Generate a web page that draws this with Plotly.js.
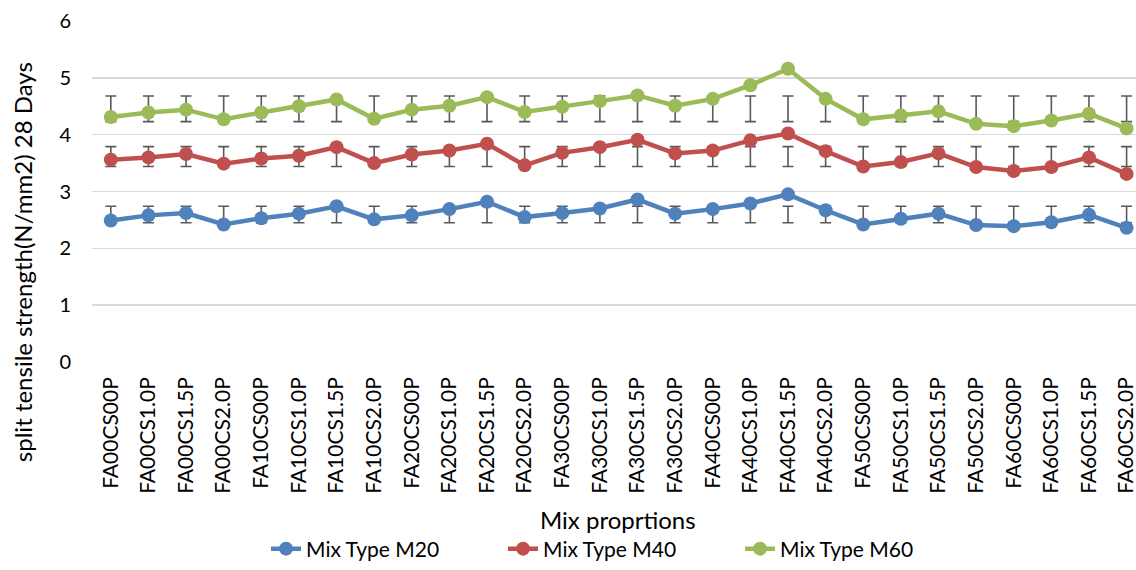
<!DOCTYPE html>
<html>
<head>
<meta charset="utf-8">
<script src="https://cdn.plot.ly/plotly-3.0.1.min.js"></script>
<style>html,body{margin:0;padding:0;background:#fff}#chart{width:1136px;height:570px}</style>
</head>
<body>
<div id="chart"></div>
<script>
const categories = ["FA00CS00P","FA00CS1.0P","FA00CS1.5P","FA00CS2.0P","FA10CS00P","FA10CS1.0P","FA10CS1.5P","FA10CS2.0P","FA20CS00P","FA20CS1.0P","FA20CS1.5P","FA20CS2.0P","FA30CS00P","FA30CS1.0P","FA30CS1.5P","FA30CS2.0P","FA40CS00P","FA40CS1.0P","FA40CS1.5P","FA40CS2.0P","FA50CS00P","FA50CS1.0P","FA50CS1.5P","FA50CS2.0P","FA60CS00P","FA60CS1.0P","FA60CS1.5P","FA60CS2.0P"];

const m20 = [2.49,2.58,2.62,2.42,2.53,2.61,2.74,2.51,2.58,2.69,2.82,2.55,2.62,2.70,2.86,2.61,2.69,2.79,2.95,2.67,2.42,2.52,2.61,2.41,2.39,2.46,2.59,2.36];
const m40 = [3.56,3.60,3.66,3.49,3.58,3.63,3.78,3.50,3.65,3.72,3.84,3.46,3.68,3.78,3.91,3.67,3.72,3.90,4.02,3.71,3.44,3.52,3.67,3.43,3.36,3.43,3.60,3.31];
const m60 = [4.31,4.39,4.44,4.27,4.39,4.50,4.62,4.28,4.44,4.51,4.66,4.40,4.49,4.59,4.69,4.51,4.63,4.87,5.16,4.63,4.27,4.34,4.41,4.19,4.15,4.25,4.37,4.11];

// error bar extents (low, high) as drawn in the picture for each series
const m20ErrLow  = Array(28).fill(2.45);
const m20ErrHigh = Array(28).fill(2.74);
const m40ErrLow  = Array(28).fill(3.44);
const m40ErrHigh = Array(28).fill(3.79);
const m60ErrLow  = Array(28).fill(4.23);
const m60ErrHigh = Array(28).fill(4.68);

const seriesNames = ["Mix Type M20","Mix Type M40","Mix Type M60"];
const colors = ["#4F81BD","#C0504D","#9BBB59"];
const xTitle = "Mix proprtions";
const yTitle = "split tensile strength(N/mm2) 28 Days";

const FONT = "Lato, 'Open Sans', sans-serif";

function errTrace(lo, hi) {
  const mid = lo.map((v, i) => (v + hi[i]) / 2);
  const half = lo.map((v, i) => (hi[i] - v) / 2);
  return {
    x: categories, y: mid, type: "scatter", mode: "markers",
    marker: {color: "rgba(0,0,0,0)", size: 1},
    error_y: {type: "data", array: half, symmetric: true, color: "#595959", thickness: 1.6, width: 5.5},
    showlegend: false, hoverinfo: "skip"
  };
}
function lineTrace(y, name, color) {
  return {
    x: categories, y: y, name: name, type: "scatter", mode: "lines+markers",
    line: {color: color, width: 4.5},
    marker: {color: color, size: 14}
  };
}

const data = [
  errTrace(m20ErrLow, m20ErrHigh),
  errTrace(m40ErrLow, m40ErrHigh),
  errTrace(m60ErrLow, m60ErrHigh),
  lineTrace(m20, seriesNames[0], colors[0]),
  lineTrace(m40, seriesNames[1], colors[1]),
  lineTrace(m60, seriesNames[2], colors[2])
];

const layout = {
  width: 1136, height: 570,
  margin: {l: 92, r: 0, t: 21, b: 208, autoexpand: false},
  paper_bgcolor: "#ffffff", plot_bgcolor: "#ffffff",
  font: {family: FONT, size: 20, color: "#000000"},
  xaxis: {
    type: "category", range: [-0.5, 27.25], automargin: false,
    showgrid: false, zeroline: false, showline: false,
    tickangle: -90, ticks: "", ticklabelstandoff: 10,
    tickfont: {family: FONT, size: 21, color: "#000"}
  },
  yaxis: {
    range: [0, 6], dtick: 1, tick0: 0, automargin: false,
    showgrid: true, gridcolor: "#D9D9D9", gridwidth: 1.5,
    zeroline: false, showline: false, ticks: "", ticklabelstandoff: 20,
    tickfont: {family: FONT, size: 20, color: "#000"}
  },
  annotations: [
    {text: xTitle, xref: "paper", yref: "paper", x: 0.504, y: -0.463, xanchor: "center", yanchor: "middle",
     showarrow: false, font: {family: FONT, size: 24, color: "#000"}},
    {text: yTitle, xref: "paper", yref: "paper", x: -0.067, y: 0.293, xanchor: "center", yanchor: "middle",
     textangle: -90, showarrow: false, font: {family: FONT, size: 24, color: "#000"}}
  ],
  showlegend: true,
  legend: {
    orientation: "h", x: 0.1667, xanchor: "left", y: -0.6085, yanchor: "bottom",
    font: {family: FONT, size: 21, color: "#000"},
    entrywidth: 192, entrywidthmode: "pixels", tracegroupgap: 0
  }
};

Plotly.newPlot("chart", data, layout, {displayModeBar: false, staticPlot: true});
</script>
</body>
</html>
